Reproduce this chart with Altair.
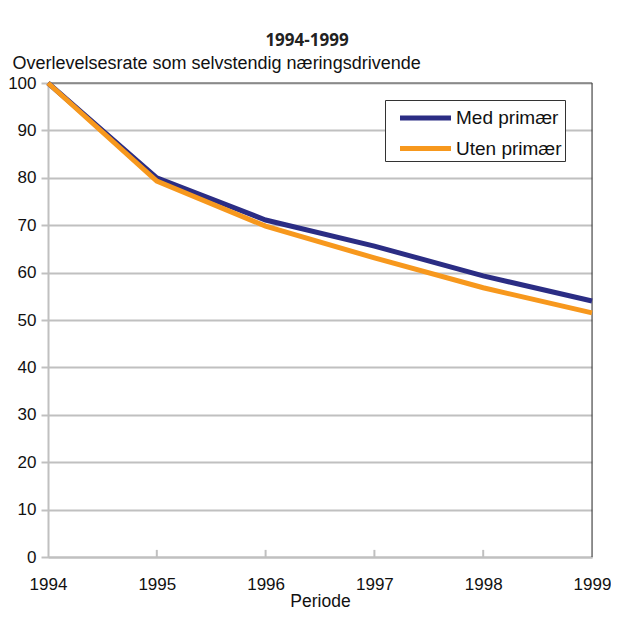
import altair as alt
import pandas as pd

years = [1994, 1995, 1996, 1997, 1998, 1999]
med_primaer = [100, 80.0, 71.1, 65.6, 59.3, 54.0]
uten_primaer = [100, 79.3, 69.8, 63.1, 56.8, 51.5]
series_names = ["Med primær", "Uten primær"]
colors = ["#2b2d84", "#f7981d"]

rows = []
for name, vals in zip(series_names, [med_primaer, uten_primaer]):
    for yr, v in zip(years, vals):
        rows.append({"År": yr, "Verdi": v, "Serie": name})
df = pd.DataFrame(rows)
ticks_df = pd.DataFrame({"År": years[1:-1]})
border_df = pd.DataFrame({"År": [1999]})
top_df = pd.DataFrame({"År": [1994], "År2": [1999]})

FONT = "Liberation Sans"
W, H = 544, 474

x_scale = alt.Scale(domain=[1994, 1999], nice=False, zero=False)
y_scale = alt.Scale(domain=[0, 100], nice=False)

lines = alt.Chart(df).mark_line(strokeWidth=5, strokeCap="butt", strokeJoin="miter").encode(
    x=alt.X("År:Q", scale=x_scale,
            axis=alt.Axis(title="Periode", values=years, format="d", grid=False,
                          ticks=False, labelPadding=19, labelFontSize=17,
                          labelFont=FONT, labelColor="#111", titleFont=FONT,
                          titleFontSize=17.5, titleFontWeight="normal", titleColor="#111",
                          titlePadding=0, domainColor="#c0c0c0", domainWidth=2,
                          labelFlush=False)),
    y=alt.Y("Verdi:Q", scale=y_scale,
            axis=alt.Axis(title="Overlevelsesrate som selvstendig næringsdrivende",
                          values=list(range(0, 101, 10)), grid=True, gridColor="#c0c0c0",
                          gridWidth=2, tickSize=7, tickColor="#c0c0c0", tickWidth=2,
                          labelPadding=5, labelFontSize=17, labelFont=FONT, labelColor="#111",
                          domainColor="#c0c0c0", domainWidth=2,
                          titleAngle=0, titleAlign="left", titleBaseline="alphabetic",
                          titleX=-36, titleY=-15, titleFont=FONT, titleFontSize=18,
                          titleFontWeight="normal", titleColor="#111")),
    color=alt.Color("Serie:N", scale=alt.Scale(domain=series_names, range=colors),
                    legend=alt.Legend(title=None, orient="none", legendX=337, legendY=17,
                                      symbolType="M-2,0H2", symbolStrokeWidth=5,
                                      symbolSize=650, symbolOffset=22.5,
                                      labelFont=FONT, labelFontSize=19,
                                      labelExpr="datum.label + '\u00a0\u00a0'",
                                      labelColor="#111", strokeColor="#333", fillColor="white",
                                      padding=2.5, rowPadding=4.5, labelOffset=15,
                                      offset=0)),
)

xticks = alt.Chart(ticks_df).mark_rule(color="#c0c0c0", strokeWidth=2).encode(
    x=alt.X("År:Q", scale=x_scale),
    y=alt.datum(0),
    y2=alt.datum(1.5),
)

border = alt.Chart(border_df).mark_rule(color="#333", strokeWidth=1).encode(
    x=alt.X("År:Q", scale=x_scale),
    y=alt.datum(0),
    y2=alt.datum(100),
)

top = alt.Chart(top_df).mark_rule(color="#555", strokeWidth=1).encode(
    x=alt.X("År:Q", scale=x_scale),
    x2="År2:Q",
    y=alt.datum(100),
)

chart = alt.layer(xticks, border, top, lines).properties(
    width=W, height=H,
    title=alt.Title("1994-1999", font="Open Sans", fontSize=17, fontWeight="bold",
                    color="#222", anchor="middle", dx=-13, offset=0, dy=-4),
    padding={"left": 40, "top": 75, "right": 19, "bottom": 52},
    autosize=alt.AutoSizeParams(type="none"),
).configure_view(stroke=None).configure(background="white")

chart.save("out.html", embed_options={"renderer": "svg", "actions": False})
